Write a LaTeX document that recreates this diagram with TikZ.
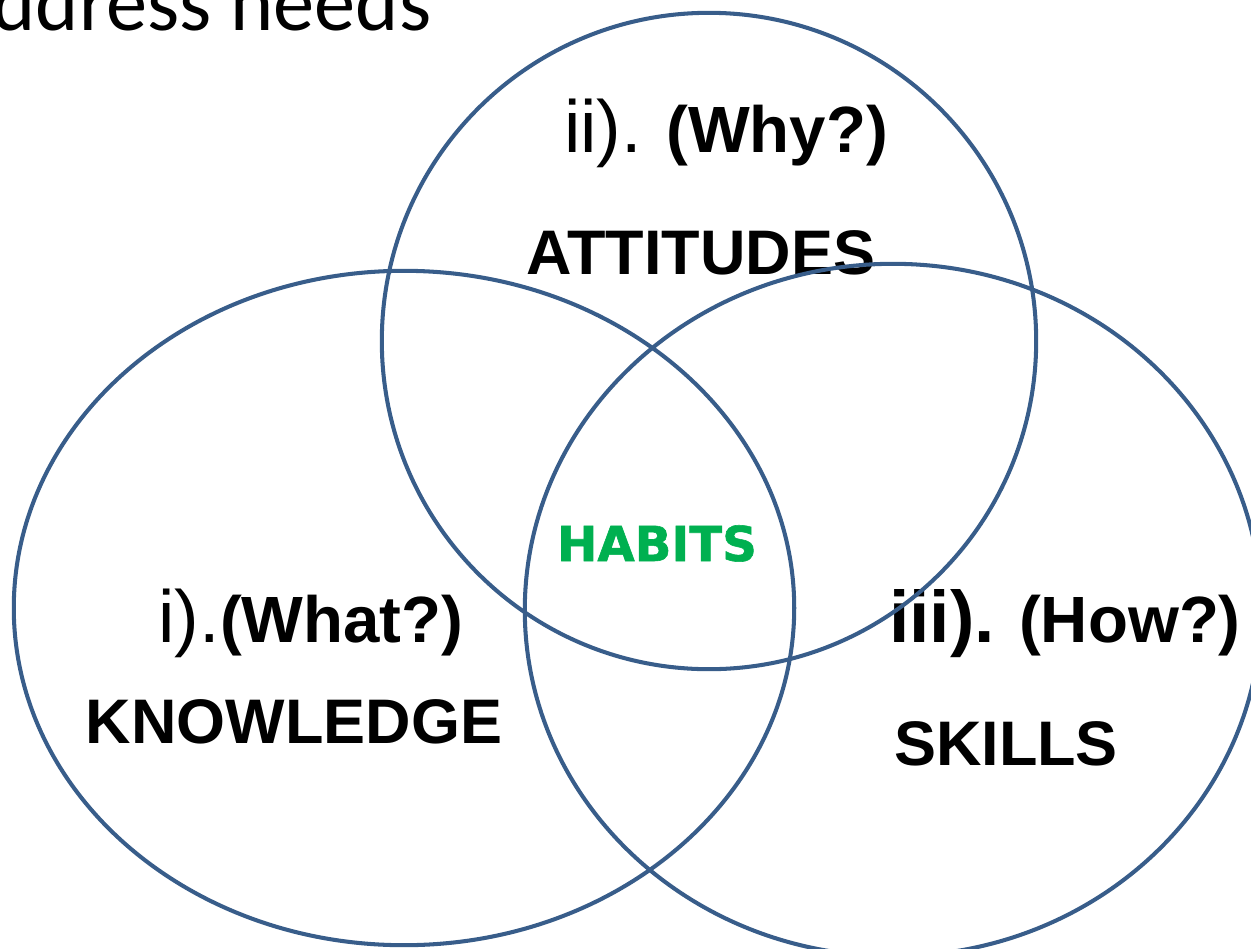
\documentclass[tikz,border=0pt]{standalone}
\usepackage{fontspec}
\setmainfont{Liberation Sans}
\newfontfamily\titlefont{Carlito}
\newfontfamily\heavyfont[BoldFeatures={FakeBold=1.2}]{DejaVu Sans}
\usepackage{tikz}
\usetikzlibrary{shapes,positioning}
\definecolor{ringblue}{HTML}{385D8A}
\definecolor{habitgreen}{HTML}{00B050}

\begin{document}
\begin{tikzpicture}
			[x=0.01cm, y=-0.01cm,
			 area/.style={ellipse, draw=ringblue, line width=1.15pt, inner sep=0pt},
			 qlabel/.style={anchor=base, font=\bfseries\fontsize{18.6}{20}\selectfont},
			 mainlabel/.style={anchor=base, font=\bfseries\fontsize{17.9}{20}\selectfont},] 
          	\useasboundingbox (0,0) rectangle (1251,948);
          	\node[anchor=base east, inner sep=0pt, font=\titlefont\fontsize{23.4}{24}\selectfont] (head) at (432,30) {address needs};
          	
          	\node[qlabel] (q2) at (726,152) {{\mdseries\fontsize{21}{22}\selectfont ii).} (Why?)};
          	\node[mainlabel] (att) at (701,274) {ATTITUDES};
          	\node[qlabel] (q1) at (311,642) {{\mdseries\fontsize{21}{22}\selectfont i).}(What?)};
          	\node[mainlabel] (know) at (294,743) {KNOWLEDGE};
          	\node[qlabel] (q3) at (1065,642) {{\fontsize{20.8}{22}\selectfont iii).} (How?)};
          	\node[mainlabel] (skill) at (1006,765) {SKILLS};
          	\node[anchor=base, text=habitgreen, font=\heavyfont\bfseries\fontsize{13.7}{15}\selectfont] (habit) at (657,561) {HABITS};
           
            \node[area, minimum width=7.80cm, minimum height=6.74cm] (K) at (404,608) {};
            \node[area, minimum width=6.54cm, minimum height=6.56cm] (A) at (709,341) {};
            \node[area, minimum width=7.36cm, minimum height=6.92cm] (S) at (893,610) {};
			\end{tikzpicture}
\end{document}
